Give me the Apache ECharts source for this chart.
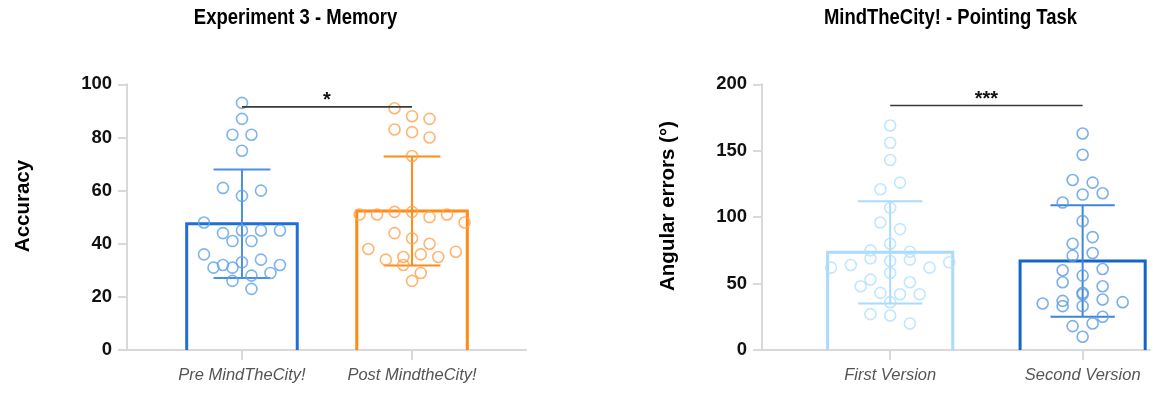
<!DOCTYPE html>
<html>
<head>
<meta charset="utf-8">
<script src="https://cdn.jsdelivr.net/npm/echarts@6/dist/echarts.min.js"></script>
<style>html,body{margin:0;padding:0;background:#fff}#c{width:1153px;height:398px}</style>
</head>
<body>
<div id="c"></div>
<script>
// ---------- data ----------
const titles = ['Experiment 3 - Memory', 'MindTheCity! - Pointing Task'];
const yNames = ['Accuracy', 'Angular errors (°)'];
const categoriesLeft = ['Pre MindTheCity!', 'Post MindtheCity!'];
const categoriesRight = ['First Version', 'Second Version'];
const yTicksLeft = [0, 20, 40, 60, 80, 100];
const yTicksRight = [0, 50, 100, 150, 200];

const preValues = [93, 87, 81, 81, 75, 61, 58, 60, 48, 44, 45, 45, 45, 41, 41,
  36, 32, 31, 33, 34, 32, 31, 28, 29, 26, 23];
const postValues = [91, 88, 87, 83, 82, 80, 73, 51, 51, 52, 52, 50, 51, 48, 44, 42, 40,
  38, 34, 35, 36, 35, 37, 32, 29, 26];
const meansLeft = [47.5, 52.3];
const sdLeft = [20.4, 20.5];

const firstValues = [169, 156, 143, 121, 126, 107, 96, 91, 75, 80, 74,
  62, 64, 69, 67, 68, 62, 66, 53, 58, 51, 48, 43, 42, 42, 36, 27, 26, 20];
const secondValues = [163, 147, 128, 126, 111, 117, 118, 97, 80, 85, 71, 73,
  60, 56, 61, 51, 43, 48, 35, 37, 42, 38, 36, 33, 33, 25, 18, 20, 10];
const meansRight = [73.5, 67];
const sdRight = [38.5, 42];

const sigLeft = [0, 1, 91.5, '*'];
const sigRight = [0, 1, 184, '***'];

// ---------- layout helpers ----------
const PX_LEFT_Y = 265.7 / 100;   // px per value unit (left grid)
const PX_RIGHT_Y = 265.7 / 200;
const PX_LEFT_X = 170.1;         // px per category unit
const PX_RIGHT_X = 192.5;

// Prism-like scatter-dot layout: values close in value share a row, centred on the category.
function swarm(values, cat, rowGapUnits, stepUnits) {
  const idx = values.map((v, i) => i).sort((a, b) => values[b] - values[a] || a - b);
  const rows = [];
  let cur = null;
  idx.forEach(i => {
    if (cur && values[cur.top] - values[i] <= rowGapUnits) cur.items.push(i);
    else { cur = { top: i, items: [i] }; rows.push(cur); }
  });
  const out = [];
  rows.forEach(r => {
    r.items.sort((a, b) => a - b);
    const n = r.items.length;
    r.items.forEach((i, k) => out.push([cat + (k - (n - 1) / 2) * stepUnits, values[i]]));
  });
  return out;
}

const ROW_PX = 11;
const preDots = swarm(preValues, 0, ROW_PX / PX_LEFT_Y, 19 / PX_LEFT_X);
const postDots = swarm(postValues, 1, ROW_PX / PX_LEFT_Y, 17.5 / PX_LEFT_X);
const firstDots = swarm(firstValues, 0, ROW_PX / PX_RIGHT_Y, 19.7 / PX_RIGHT_X);
const secondDots = swarm(secondValues, 1, ROW_PX / PX_RIGHT_Y, 20 / PX_RIGHT_X);

const BAR_HALF = 0.325;
const CAP_HALF = 0.167;
const FONT = '"Liberation Sans", Arial, Helvetica, sans-serif';

function barSeries(gridIdx, means, colors) {
  return {
    type: 'custom', xAxisIndex: gridIdx, yAxisIndex: gridIdx, z: 2,
    data: means.map((m, i) => [i, m]),
    renderItem: (params, api) => {
      const c = api.value(0), m = api.value(1);
      const p1 = api.coord([c - BAR_HALF, 0]);
      const p2 = api.coord([c - BAR_HALF, m]);
      const p3 = api.coord([c + BAR_HALF, m]);
      const p4 = api.coord([c + BAR_HALF, 0]);
      return { type: 'polyline', shape: { points: [p1, p2, p3, p4] },
        style: { stroke: colors[params.dataIndex], lineWidth: 3, fill: null } };
    }
  };
}
function errSeries(gridIdx, means, sds, colors) {
  return {
    type: 'custom', xAxisIndex: gridIdx, yAxisIndex: gridIdx, z: 3,
    data: means.map((m, i) => [i, m, sds[i]]),
    renderItem: (params, api) => {
      const c = api.value(0), m = api.value(1), s = api.value(2);
      const top = api.coord([c, m + s]), bot = api.coord([c, m - s]);
      const tl = api.coord([c - CAP_HALF, m + s]), tr = api.coord([c + CAP_HALF, m + s]);
      const bl = api.coord([c - CAP_HALF, m - s]), br = api.coord([c + CAP_HALF, m - s]);
      const st = { stroke: colors[params.dataIndex], lineWidth: 2 };
      return { type: 'group', children: [
        { type: 'line', shape: { x1: top[0], y1: top[1], x2: bot[0], y2: bot[1] }, style: st },
        { type: 'line', shape: { x1: tl[0], y1: tl[1], x2: tr[0], y2: tr[1] }, style: st },
        { type: 'line', shape: { x1: bl[0], y1: bl[1], x2: br[0], y2: br[1] }, style: st }
      ] };
    }
  };
}
function dotSeries(gridIdx, dots, color) {
  return {
    type: 'scatter', xAxisIndex: gridIdx, yAxisIndex: gridIdx, z: 4,
    symbol: 'circle', symbolSize: 11, data: dots, silent: true,
    itemStyle: { color: 'rgba(255,255,255,0)', borderColor: color, borderWidth: 1.6 }
  };
}
function sigSeries(gridIdx, sig) {
  return {
    type: 'custom', xAxisIndex: gridIdx, yAxisIndex: gridIdx, z: 5,
    data: [sig.slice(0, 3)],
    renderItem: (params, api) => {
      const a = api.coord([api.value(0), api.value(2)]);
      const b = api.coord([api.value(1), api.value(2)]);
      return { type: 'group', children: [
        { type: 'line', shape: { x1: a[0], y1: a[1], x2: b[0], y2: b[1] },
          style: { stroke: '#3a3a3a', lineWidth: 1.6 } },
        { type: 'text', x: (a[0] + b[0]) / 2, y: a[1] + 4,
          style: { text: sig[3], fill: '#111', font: 'bold 20px ' + FONT,
            align: 'center', verticalAlign: 'bottom' } }
      ] };
    }
  };
}

const AXIS_GRAY = '#d9d9d9';
function xAxisCfg(gridIdx, cats, min, max) {
  return {
    type: 'value', gridIndex: gridIdx, min: min, max: max,
    splitLine: { show: false },
    axisLine: { show: true, onZero: false, lineStyle: { color: AXIS_GRAY, width: 2 } },
    axisTick: { show: true, customValues: [0, 1], length: 10, lineStyle: { color: AXIS_GRAY, width: 2 } },
    axisLabel: { show: true, customValues: [0, 1], margin: 17,
      formatter: v => cats[Math.round(v)] || '',
      color: '#555', fontStyle: 'italic', fontSize: 16.5, fontFamily: FONT }
  };
}
function yAxisCfg(gridIdx, ticks) {
  return {
    type: 'value', gridIndex: gridIdx,
    min: ticks[0], max: ticks[ticks.length - 1], interval: ticks[1] - ticks[0],
    splitLine: { show: false },
    axisLine: { show: true, onZero: false, lineStyle: { color: AXIS_GRAY, width: 2 } },
    axisTick: { show: true, length: 9, lineStyle: { color: AXIS_GRAY, width: 2 } },
    axisLabel: { margin: 15, color: '#111', fontWeight: 'bold', fontSize: 18.5, fontFamily: FONT }
  };
}

function titleText(text, x) {
  return { type: 'text', x: x, y: 18, scaleX: 0.84, z: 10,
    style: { text: text, font: 'bold 22px ' + FONT, fill: '#000', align: 'center', verticalAlign: 'middle' } };
}
function yNameText(text, x) {
  return { type: 'text', x: x, y: 206, rotation: Math.PI / 2, z: 10,
    style: { text: text, font: 'bold 20.5px ' + FONT, fill: '#000', align: 'center', verticalAlign: 'middle' } };
}

const option = {
  animation: false,
  backgroundColor: '#fff',
  graphic: [
    titleText(titles[0], 295.5),
    titleText(titles[1], 950.5),
    yNameText(yNames[0], 23),
    yNameText(yNames[1], 668)
  ],
  grid: [
    { left: 127, top: 84.3, width: 399, height: 265.7 },
    { left: 762, top: 84.3, width: 388, height: 265.7 }
  ],
  xAxis: [
    xAxisCfg(0, categoriesLeft, -0.676, 1.67),
    xAxisCfg(1, categoriesRight, -0.666, 1.35)
  ],
  yAxis: [
    yAxisCfg(0, yTicksLeft),
    yAxisCfg(1, yTicksRight)
  ],
  series: [
    barSeries(0, meansLeft, ['#1f6fd6', '#ff8a14']),
    errSeries(0, meansLeft, sdLeft, ['#4a90e2', '#ff8a14']),
    dotSeries(0, preDots, '#5fa2ea'),
    dotSeries(0, postDots, '#ffa24f'),
    sigSeries(0, sigLeft),
    barSeries(1, meansRight, ['#a8dbff', '#1565c8']),
    errSeries(1, meansRight, sdRight, ['#a8dbff', '#3f86db']),
    dotSeries(1, firstDots, '#b3e0ff'),
    dotSeries(1, secondDots, '#5b9be6'),
    sigSeries(1, sigRight)
  ]
};
const chart = echarts.init(document.getElementById('c'), null, { renderer: 'canvas' });
chart.setOption(option);
</script>
</body>
</html>
